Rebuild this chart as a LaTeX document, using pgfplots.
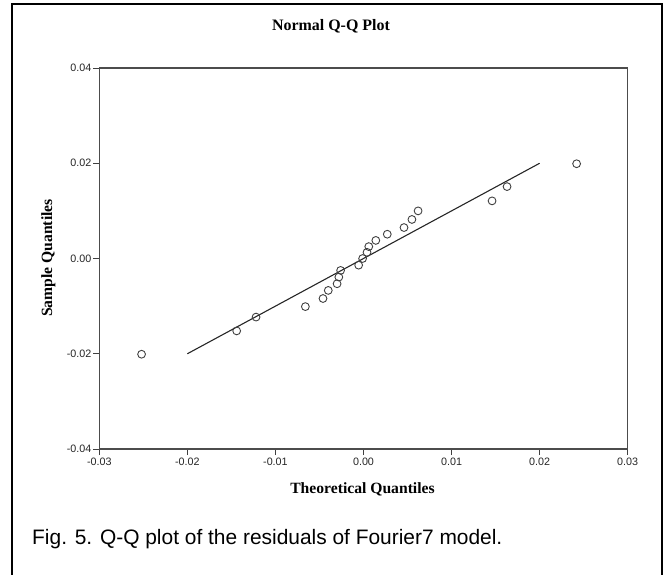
\documentclass[border=0pt]{standalone}
\usepackage{pgfplots}
\pgfplotsset{compat=1.18}
\usepackage{fontspec}
\setmainfont{Liberation Serif}
\newfontfamily\arial{Liberation Sans}
\begin{document}
\begin{tikzpicture}
\path[use as bounding box] (0,0) rectangle (664bp,-575bp);
\draw[line width=1.6bp, black] (12bp,-575bp) -- (12bp,-4bp) -- (662bp,-4bp) -- (662bp,-575bp);
\begin{axis}[
  at={(99.3bp,-449bp)}, anchor=south west,
  width=528.4bp, height=381bp, scale only axis,
  xmin=-0.03, xmax=0.03, ymin=-0.04, ymax=0.04,
  xtick={-0.03,-0.02,-0.01,0,0.01,0.02,0.03},
  ytick={-0.04,-0.02,0,0.02,0.04},
  scaled ticks=false,
  tick pos=left, tick align=outside,
  major tick length=6bp,
  every tick/.style={line width=1bp, color=black!75},
  axis line style={line width=1.3bp, color=black!70},
  tick label style={font=\arial\fontsize{10.8}{11}\selectfont, color=black!85},
  xticklabel style={yshift=1bp},
  yticklabel style={xshift=1.5bp},
  /pgf/number format/assume math mode=true,
  /pgf/number format/.cd, fixed, fixed zerofill, precision=2,
]
\addplot[only marks, mark=o, mark size=3.9bp, mark options={line width=0.9bp, color=black!75}] coordinates {
(-0.0252,-0.0201) (-0.0144,-0.0152) (-0.0122,-0.0123) (-0.0066,-0.0101)
(-0.0046,-0.0084) (-0.0040,-0.0067) (-0.0030,-0.0053) (-0.0028,-0.0039)
(-0.0026,-0.0025) (-0.00055,-0.0014) (-0.0001,0.0000) (0.0004,0.0013)
(0.0006,0.0025) (0.0014,0.0038) (0.0027,0.0051) (0.0046,0.0065)
(0.0055,0.0082) (0.0062,0.0100) (0.0146,0.0121) (0.0163,0.0151)
(0.0242,0.0199)
};
\addplot[black!85, line width=1.1bp] coordinates {(-0.02,-0.02) (0.02,0.02)};
\end{axis}
\node[anchor=base] at (331bp,-30.7bp) {\bfseries\fontsize{16}{16}\selectfont Normal Q-Q Plot};
\node[anchor=base] at (362.5bp,-493bp) {\bfseries\fontsize{15.7}{16}\selectfont Theoretical Quantiles};
\node[anchor=base, rotate=90] at (52bp,-258bp) {\bfseries\fontsize{15.7}{16}\selectfont Sample Quantiles};
\node[anchor=base west, inner sep=0pt] at (32bp,-544bp) {\arial\fontsize{21}{21}\selectfont Fig. 5. Q-Q plot of the residuals of Fourier7 model.};
\end{tikzpicture}
\end{document}
